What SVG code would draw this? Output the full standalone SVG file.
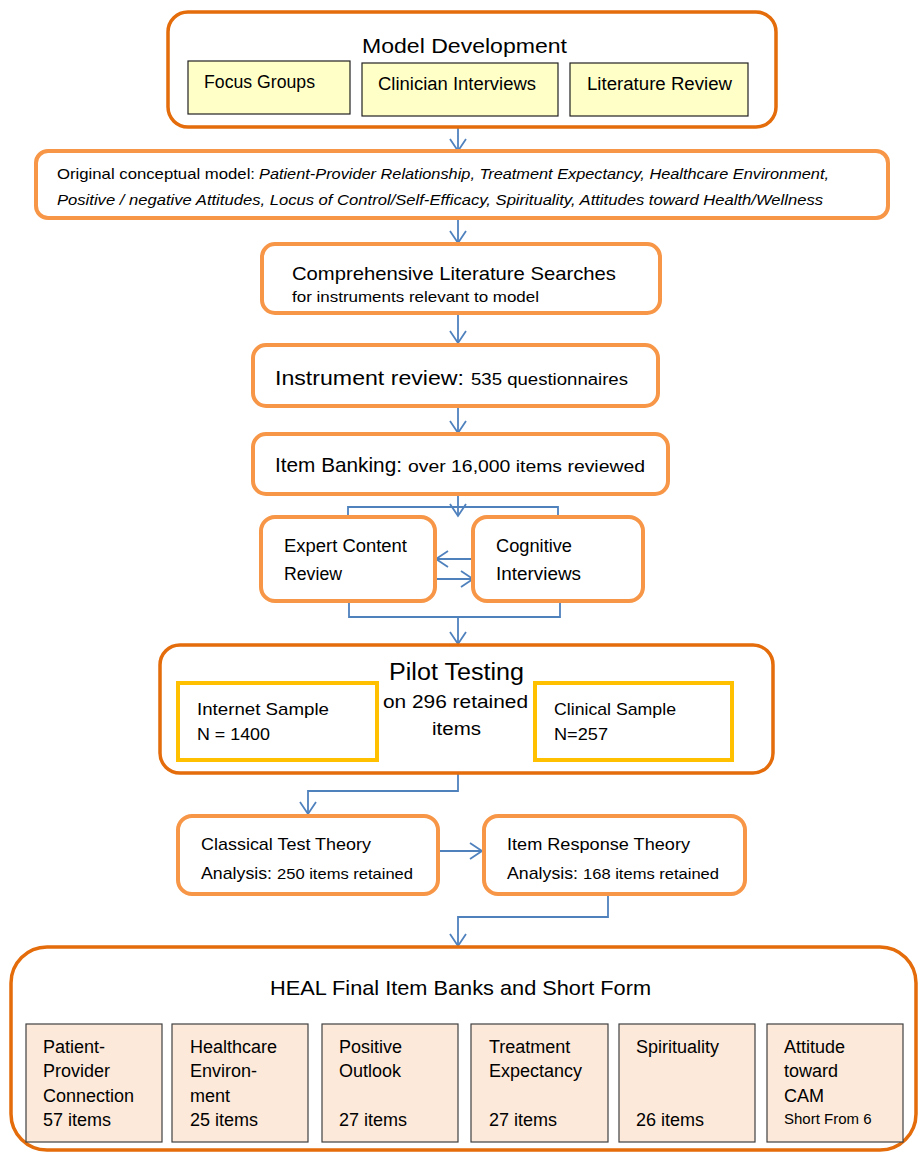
<svg xmlns="http://www.w3.org/2000/svg" width="919" height="1153" viewBox="0 0 919 1153">
<defs>
<style>
text{font-family:"Liberation Sans",Arial,sans-serif;fill:#000}
.dk{fill:#fff;stroke:#E46C0A;stroke-width:3.5}
.lt{fill:#fff;stroke:#F79646;stroke-width:4}
.gd{fill:#fff;stroke:#FFC000;stroke-width:4}
.yl{fill:#FFFFC8;stroke:#222;stroke-width:1.2}
.pk{fill:#FDE9D9;stroke:#404040;stroke-width:1.2}
.c{fill:none;stroke:#4F81BD;stroke-width:1.8}
.it{font-style:italic}
</style>
<marker id="ah" markerUnits="userSpaceOnUse" markerWidth="20" markerHeight="20" refX="13" refY="9" orient="auto">
<path d="M1,1 L13,9 L1,17" fill="none" stroke="#4F81BD" stroke-width="1.8"/>
</marker>
</defs>

<g id="connectors">
<line class="c" x1="458" y1="127" x2="458" y2="151" marker-end="url(#ah)"/>
<line class="c" x1="458" y1="219" x2="458" y2="243" marker-end="url(#ah)"/>
<line class="c" x1="458" y1="314" x2="458" y2="343" marker-end="url(#ah)"/>
<line class="c" x1="458" y1="407" x2="458" y2="433" marker-end="url(#ah)"/>
<line class="c" x1="458" y1="495" x2="458" y2="516" marker-end="url(#ah)"/>
<path class="c" d="M348,517 V507 H558 V517"/>
<line class="c" x1="473" y1="559" x2="436" y2="559" marker-end="url(#ah)"/>
<line class="c" x1="436" y1="579" x2="473" y2="579" marker-end="url(#ah)"/>
<path class="c" d="M349,601 V617 H560 V601"/>
<line class="c" x1="458" y1="617" x2="458" y2="644" marker-end="url(#ah)"/>
<path class="c" d="M458,774 V791 H308 V814" marker-end="url(#ah)"/>
<line class="c" x1="439" y1="851" x2="482" y2="851" marker-end="url(#ah)"/>
<path class="c" d="M608,895 V917 H458 V946" marker-end="url(#ah)"/>
</g>

<g id="model-development">
<rect class="dk" x="168" y="12" width="608" height="115" rx="20"/>
<text x="362" y="53" font-size="21" textLength="205" lengthAdjust="spacingAndGlyphs">Model Development</text>
</g>
<g id="focus-groups">
<rect class="yl" x="188" y="61" width="162" height="53"/>
<text x="204" y="88" font-size="18" textLength="111" lengthAdjust="spacingAndGlyphs">Focus Groups</text>
</g>
<g id="clinician-interviews">
<rect class="yl" x="362" y="63" width="196" height="53"/>
<text x="378" y="90" font-size="18" textLength="158" lengthAdjust="spacingAndGlyphs">Clinician Interviews</text>
</g>
<g id="literature-review">
<rect class="yl" x="570" y="63" width="178" height="53"/>
<text x="587" y="90" font-size="18" textLength="145" lengthAdjust="spacingAndGlyphs">Literature Review</text>
</g>

<g id="conceptual-model">
<rect class="lt" x="36" y="151" width="852" height="67" rx="12"/>
<text x="57" y="179" font-size="15" textLength="198" lengthAdjust="spacingAndGlyphs">Original conceptual model:</text>
<text class="it" x="259" y="179" font-size="15" textLength="570" lengthAdjust="spacingAndGlyphs">Patient-Provider Relationship, Treatment Expectancy, Healthcare Environment,</text>
<text class="it" x="57" y="205" font-size="15" textLength="766" lengthAdjust="spacingAndGlyphs">Positive / negative Attitudes, Locus of Control/Self-Efficacy, Spirituality, Attitudes toward Health/Wellness</text>
</g>

<g id="literature-searches">
<rect class="lt" x="262" y="244" width="398" height="69" rx="13"/>
<text x="292" y="280" font-size="19" textLength="324" lengthAdjust="spacingAndGlyphs">Comprehensive Literature Searches</text>
<text x="292" y="302" font-size="15" textLength="247" lengthAdjust="spacingAndGlyphs">for instruments relevant to model</text>
</g>

<g id="instrument-review">
<rect class="lt" x="253" y="345" width="405" height="61" rx="13"/>
<text x="275" y="385" font-size="21" textLength="189" lengthAdjust="spacingAndGlyphs">Instrument review:</text>
<text x="471" y="385" font-size="16" textLength="157" lengthAdjust="spacingAndGlyphs">535 questionnaires</text>
</g>

<g id="item-banking">
<rect class="lt" x="253" y="434" width="415" height="60" rx="13"/>
<text x="275" y="472" font-size="21" textLength="127" lengthAdjust="spacingAndGlyphs">Item Banking:</text>
<text x="408" y="472" font-size="16" textLength="237" lengthAdjust="spacingAndGlyphs">over 16,000 items reviewed</text>
</g>

<g id="expert-content-review">
<rect class="lt" x="261" y="517" width="174" height="84" rx="14"/>
<text x="284" y="552" font-size="18" textLength="123" lengthAdjust="spacingAndGlyphs">Expert Content</text>
<text x="284" y="580" font-size="18" textLength="58" lengthAdjust="spacingAndGlyphs">Review</text>
</g>

<g id="cognitive-interviews">
<rect class="lt" x="473" y="517" width="170" height="84" rx="14"/>
<text x="496" y="552" font-size="18" textLength="76" lengthAdjust="spacingAndGlyphs">Cognitive</text>
<text x="496" y="580" font-size="18" textLength="85" lengthAdjust="spacingAndGlyphs">Interviews</text>
</g>

<g id="pilot-testing">
<rect class="dk" x="160" y="645" width="613" height="128" rx="20"/>
<text x="389" y="680" font-size="23" textLength="135" lengthAdjust="spacingAndGlyphs">Pilot Testing</text>
<text x="383" y="708" font-size="18" textLength="145" lengthAdjust="spacingAndGlyphs">on 296 retained</text>
<text x="432" y="735" font-size="18" textLength="49" lengthAdjust="spacingAndGlyphs">items</text>
</g>
<g id="internet-sample">
<rect class="gd" x="178" y="683" width="199" height="77"/>
<text x="197" y="715" font-size="17" textLength="132" lengthAdjust="spacingAndGlyphs">Internet Sample</text>
<text x="197" y="740" font-size="17" textLength="73" lengthAdjust="spacingAndGlyphs">N = 1400</text>
</g>
<g id="clinical-sample">
<rect class="gd" x="535" y="683" width="197" height="77"/>
<text x="554" y="715" font-size="17" textLength="122" lengthAdjust="spacingAndGlyphs">Clinical Sample</text>
<text x="554" y="740" font-size="17" textLength="54" lengthAdjust="spacingAndGlyphs">N=257</text>
</g>

<g id="classical-test-theory">
<rect class="lt" x="178" y="816" width="260" height="78" rx="14"/>
<text x="201" y="850" font-size="17" textLength="170" lengthAdjust="spacingAndGlyphs">Classical Test Theory</text>
<text x="201" y="879" font-size="17" textLength="71" lengthAdjust="spacingAndGlyphs">Analysis:</text>
<text x="277" y="879" font-size="15" textLength="136" lengthAdjust="spacingAndGlyphs">250 items retained</text>
</g>

<g id="item-response-theory">
<rect class="lt" x="484" y="816" width="261" height="78" rx="14"/>
<text x="507" y="850" font-size="17" textLength="183" lengthAdjust="spacingAndGlyphs">Item Response Theory</text>
<text x="507" y="879" font-size="17" textLength="71" lengthAdjust="spacingAndGlyphs">Analysis:</text>
<text x="583" y="879" font-size="15" textLength="136" lengthAdjust="spacingAndGlyphs">168 items retained</text>
</g>

<g id="heal-final">
<rect class="dk" x="11" y="947" width="905" height="203" rx="36"/>
<text x="270" y="995" font-size="21" textLength="381" lengthAdjust="spacingAndGlyphs">HEAL Final Item Banks and Short Form</text>
</g>
<g id="patient-provider">
<rect class="pk" x="26" y="1024" width="136" height="118"/>
<text x="43" y="1053" font-size="18">Patient-</text>
<text x="43" y="1077" font-size="18">Provider</text>
<text x="43" y="1102" font-size="18">Connection</text>
<text x="43" y="1126" font-size="18">57 items</text>
</g>
<g id="healthcare-environment">
<rect class="pk" x="172" y="1024" width="136" height="118"/>
<text x="190" y="1053" font-size="18">Healthcare</text>
<text x="190" y="1077" font-size="18">Environ-</text>
<text x="190" y="1102" font-size="18">ment</text>
<text x="190" y="1126" font-size="18">25 items</text>
</g>
<g id="positive-outlook">
<rect class="pk" x="322" y="1024" width="136" height="118"/>
<text x="339" y="1053" font-size="18">Positive</text>
<text x="339" y="1077" font-size="18">Outlook</text>
<text x="339" y="1126" font-size="18">27 items</text>
</g>
<g id="treatment-expectancy">
<rect class="pk" x="471" y="1024" width="137" height="118"/>
<text x="489" y="1053" font-size="18">Treatment</text>
<text x="489" y="1077" font-size="18">Expectancy</text>
<text x="489" y="1126" font-size="18">27 items</text>
</g>
<g id="spirituality">
<rect class="pk" x="619" y="1024" width="136" height="118"/>
<text x="636" y="1053" font-size="18">Spirituality</text>
<text x="636" y="1126" font-size="18">26 items</text>
</g>
<g id="attitude-cam">
<rect class="pk" x="767" y="1024" width="136" height="118"/>
<text x="784" y="1053" font-size="18">Attitude</text>
<text x="784" y="1077" font-size="18">toward</text>
<text x="784" y="1102" font-size="18">CAM</text>
<text x="784" y="1124" font-size="15">Short From 6</text>
</g>
</svg>
